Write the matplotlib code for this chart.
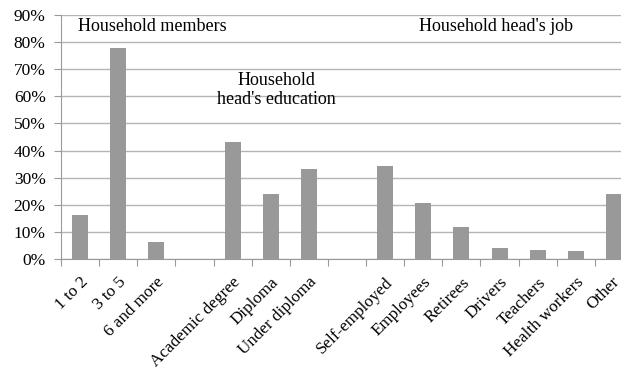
import matplotlib.pyplot as plt
import matplotlib.transforms as mtransforms
from matplotlib.ticker import PercentFormatter, FixedLocator

# categories (empty strings are gaps between the groups)
categories = ["1 to 2", "3 to 5", "6 and more", "",
              "Academic degree", "Diploma", "Under diploma", "",
              "Self-employed", "Employees", "Retirees", "Drivers",
              "Teachers", "Health workers", "Other"]
shares = [16.2, 77.8, 6.3, 0,
          43.2, 24.0, 33.2, 0,
          34.3, 20.6, 11.8, 4.0,
          3.3, 2.9, 24.0]
group_labels = ["Household members", "Household\nhead's education", "Household head's job"]

plt.rcParams['font.family'] = ['Liberation Serif', 'DejaVu Serif']

fig = plt.figure(figsize=(6.21, 3.69), dpi=100)
# plot area runs a little past the right edge, as in the original crop
ax = fig.add_axes([61 / 621, 110 / 369, 572 / 621, 244 / 369])

x = list(range(len(categories)))
ax.bar(x, shares, width=0.42, color='#999999', zorder=3)

ax.set_xlim(-0.5, len(categories) - 0.5)
ax.set_ylim(0, 90)
ax.yaxis.set_major_locator(FixedLocator(range(0, 91, 10)))
ax.yaxis.set_major_formatter(PercentFormatter(decimals=0))
ax.grid(axis='y', color='#b4b4b4', linewidth=1, zorder=0)

# ticks between categories, labels at category centres
ax.set_xticks([i - 0.5 for i in range(len(categories) + 1)])
ax.set_xticklabels([])
ax.set_xticks(x, minor=True)
ax.set_xticklabels(categories, minor=True, rotation=45, ha='right',
                   rotation_mode='anchor', fontsize=12.3)
ax.tick_params(axis='x', which='minor', length=0, pad=11)
ax.tick_params(axis='x', which='major', length=5, color='#999999')
ax.tick_params(axis='y', length=5, color='#999999', labelsize=12.5, pad=6)

# nudge the last label so it stays inside the picture
last = ax.get_xticklabels(minor=True)[-1]
last.set_transform(last.get_transform() +
                   mtransforms.ScaledTranslation(-3 / 100, 0, fig.dpi_scale_trans))

for side in ['top', 'right']:
    ax.spines[side].set_visible(False)
for side in ['left', 'bottom']:
    ax.spines[side].set_color('#999999')

ax.text(-0.05, 85.8, group_labels[0], fontsize=13, ha='left', va='center')
ax.text(5.16, 62.3, group_labels[1], fontsize=13, ha='center', va='center',
        linespacing=1.15)
ax.text(10.9, 85.8, group_labels[2], fontsize=13, ha='center', va='center')

fig.savefig('out.png', dpi=100)
